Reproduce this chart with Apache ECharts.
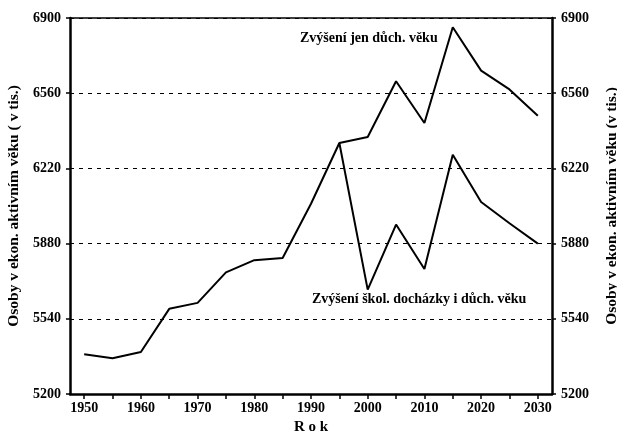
<!DOCTYPE html>
<html>
<head>
<meta charset="utf-8">
<script src="https://cdn.jsdelivr.net/npm/echarts@6/dist/echarts.min.js"></script>
<style>
  html, body { margin: 0; padding: 0; background: #fff; }
  #chart { width: 617px; height: 431px; }
</style>
</head>
<body>
<div id="chart"></div>
<script>
// roky (po 5 letech)
var years = [1950, 1955, 1960, 1965, 1970, 1975, 1980, 1985, 1990, 1995,
             2000, 2005, 2010, 2015, 2020, 2025, 2030];
// spolecna cast do 1995
var spolecne = [5380, 5362, 5390, 5585, 5612, 5750, 5805, 5815, 6060, 6335];
// po 1995 - jen duchodovy vek
var jenDuch = [6362, 6614, 6425, 6858, 6662, 6577, 6458];
// po 1995 - skolni dochazka i duchodovy vek
var skolIDuch = [5672, 5966, 5765, 6282, 6068, 5972, 5880];

var yearTicks = [1950, 1955, 1960, 1965, 1970, 1975, 1980, 1985, 1990, 1995,
                 2000, 2005, 2010, 2015, 2020, 2025, 2030];
var yearLabels = [1950, 1960, 1970, 1980, 1990, 2000, 2010, 2020, 2030];

var serif = '"Liberation Serif", "DejaVu Serif", serif';

function pairs(ys, vals, offset) {
    var out = [];
    for (var i = 0; i < vals.length; i++) {
        out.push([ys[i + offset], vals[i]]);
    }
    return out;
}

var upper = pairs(years, spolecne.concat(jenDuch), 0);
var lower = pairs(years, spolecne.slice(9).concat(skolIDuch), 9);

var myChart = echarts.init(document.getElementById('chart'));

var yAxisCommon = {
    type: 'value',
    min: 5200,
    max: 6900,
    interval: 340,
    nameLocation: 'middle',
    nameTextStyle: { fontFamily: serif, fontWeight: 'bold', fontSize: 15.5, color: '#000' },
    axisLine: { show: true, lineStyle: { color: '#000', width: 2.5 } },
    axisTick: { show: true, length: 4, lineStyle: { color: '#000', width: 1.5 } },
    axisLabel: {
        fontFamily: serif, fontWeight: 'bold', fontSize: 14, color: '#000', margin: 9,
        formatter: function (v) { return String(v); }
    }
};

var option = {
    animation: false,
    backgroundColor: '#fff',
    grid: { left: 70, right: 65, top: 18, bottom: 37, containLabel: false, outerBoundsMode: 'none' },
    xAxis: [{
        type: 'value',
        min: 1947.5,
        max: 2032.5,
        name: 'R o k',
        nameLocation: 'middle',
        nameGap: 23,
        nameTextStyle: { fontFamily: serif, fontWeight: 'bold', fontSize: 15, color: '#000' },
        axisLine: { lineStyle: { color: '#000', width: 2.5 } },
        axisTick: { show: true, length: 5, customValues: yearTicks, lineStyle: { color: '#000', width: 1.5 } },
        axisLabel: {
            customValues: yearLabels, fontFamily: serif, fontWeight: 'bold', fontSize: 14, color: '#000', margin: 7,
            formatter: function (v) { return String(v); }
        },
        splitLine: { show: false }
    }, {
        type: 'value',
        position: 'top',
        min: 1947.5,
        max: 2032.5,
        axisLine: { show: true, lineStyle: { color: '#000', width: 1.5 } },
        axisTick: { show: false },
        axisLabel: { show: false },
        splitLine: { show: false }
    }],
    yAxis: [
        Object.assign({}, yAxisCommon, {
            position: 'left',
            name: 'Osoby v ekon. aktivním věku ( v tis.)',
            nameGap: 47,
            splitLine: { show: true, lineStyle: { color: '#000', width: 1, type: [4, 5] } }
        }),
        Object.assign({}, yAxisCommon, {
            position: 'right',
            name: 'Osoby v ekon. aktivním věku (v tis.)',
            nameGap: 52,
            nameRotate: 90,
            splitLine: { show: false }
        })
    ],
    series: [{
        name: 'Zvýšení jen důch. věku',
        type: 'line',
        data: upper,
        showSymbol: false,
        lineStyle: { color: '#000', width: 2 },
        z: 5
    }, {
        name: 'Zvýšení škol. docházky i důch. věku',
        type: 'line',
        data: lower,
        showSymbol: false,
        lineStyle: { color: '#000', width: 2 },
        z: 5
    }],
    graphic: [{
        type: 'text',
        left: 300,
        top: 31,
        style: { text: 'Zvýšení jen důch. věku', font: 'bold 14px ' + serif, fill: '#000' }
    }, {
        type: 'text',
        left: 312,
        top: 292,
        style: { text: 'Zvýšení škol. docházky i důch. věku', font: 'bold 14px ' + serif, fill: '#000' }
    }]
};

myChart.setOption(option);
</script>
</body>
</html>
